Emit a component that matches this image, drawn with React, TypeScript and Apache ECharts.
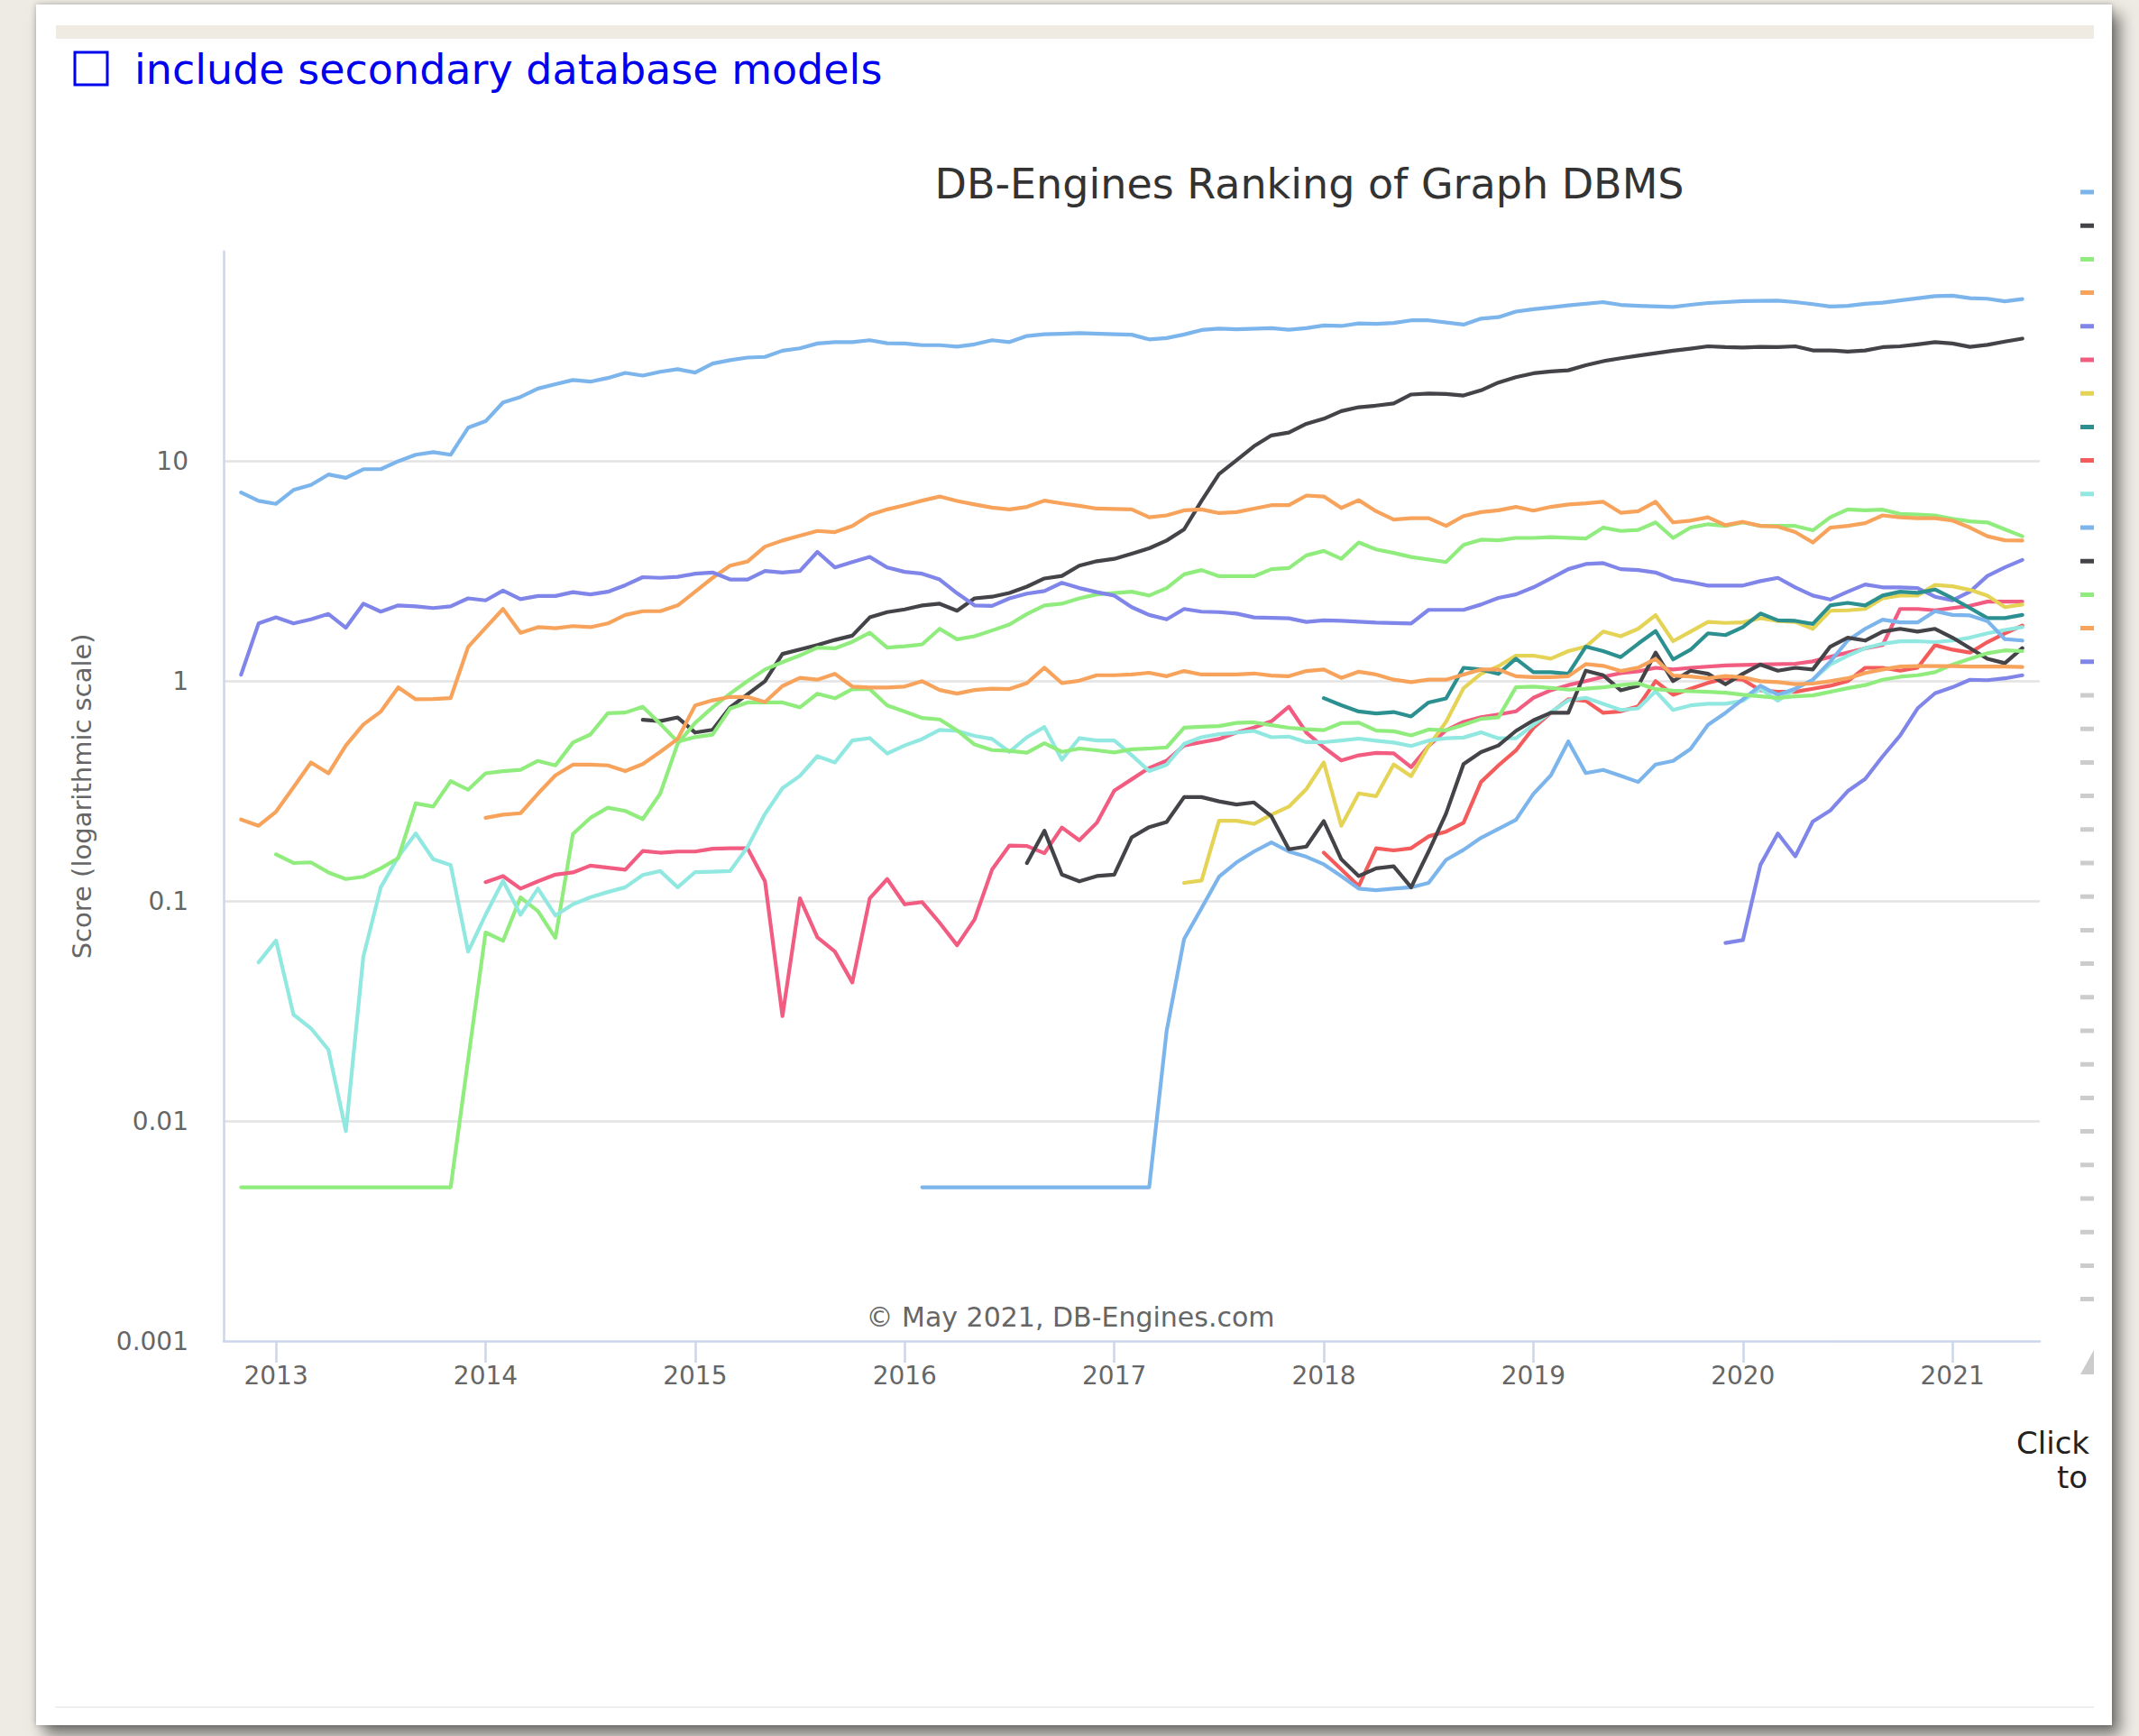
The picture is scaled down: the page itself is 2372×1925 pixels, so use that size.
import { useEffect, useRef } from "react";
import * as echarts from "echarts";

// Each point: [months since 2012-11 (0 = Nov 2012), score]
const neo4j = [[0,7.2],[1,6.6],[2,6.4],[3,7.4],[4,7.8],[5,8.7],[6,8.4],[7,9.2],[8,9.2],[9,10.0],[10,10.7],[11,11.0],[12,10.7],[13,14.2],[14,15.2],[15,18.5],[16,19.6],[17,21.4],[18,22.4],[19,23.4],[20,23.0],[21,23.9],[22,25.2],[23,24.5],[24,25.5],[25,26.2],[26,25.3],[27,27.8],[28,28.8],[29,29.6],[30,29.8],[31,31.8],[32,32.6],[33,34.3],[34,34.8],[35,34.8],[36,35.5],[37,34.4],[38,34.3],[39,33.7],[40,33.7],[41,33.2],[42,34.0],[43,35.5],[44,34.8],[45,37.1],[46,37.8],[47,38.0],[48,38.2],[50,37.8],[51,37.6],[52,35.8],[53,36.3],[54,37.7],[55,39.5],[56,40.1],[57,39.8],[59,40.3],[60,39.6],[61,40.3],[62,41.4],[63,41.2],[64,42.3],[65,42.1],[66,42.5],[67,43.7],[68,43.7],[70,41.8],[71,44.5],[72,45.2],[73,47.9],[74,49.1],[75,50.0],[76,51.1],[78,52.9],[79,51.4],[80,50.9],[82,50.3],[83,51.4],[84,52.4],[85,52.9],[86,53.5],[88,53.7],[89,52.9],[90,51.8],[91,50.5],[92,50.9],[93,52.0],[94,52.6],[95,53.8],[97,56.3],[98,56.6],[99,55.1],[100,54.8],[101,53.3],[102,54.6]];
const cosmosDb = [[23,0.668],[24,0.658],[25,0.684],[26,0.584],[27,0.601],[28,0.76],[30,1.0],[31,1.33],[33,1.46],[34,1.54],[35,1.61],[36,1.95],[37,2.06],[38,2.12],[39,2.21],[40,2.25],[41,2.09],[42,2.38],[43,2.42],[44,2.52],[45,2.69],[46,2.93],[47,3.01],[48,3.35],[49,3.51],[50,3.6],[51,3.8],[52,4.02],[53,4.36],[54,4.9],[55,6.6],[56,8.74],[57,10.1],[58,11.7],[59,13.1],[60,13.5],[61,14.8],[62,15.6],[63,16.9],[64,17.6],[65,17.9],[66,18.3],[67,20.1],[68,20.3],[69,20.2],[70,19.9],[71,21.0],[72,22.8],[73,24.1],[74,25.1],[75,25.6],[76,25.9],[77,27.3],[78,28.5],[79,29.4],[80,30.2],[81,31.0],[82,31.8],[83,32.5],[84,33.3],[85,33.0],[86,32.9],[87,33.1],[88,33.0],[89,33.3],[90,31.9],[91,31.9],[92,31.5],[93,31.9],[94,33.0],[95,33.3],[96,34.0],[97,34.8],[98,34.3],[99,33.1],[100,33.8],[101,35.0],[102,36.1]];
const arangoDb = [[0,0.005],[12,0.005],[13,0.019],[14,0.072],[15,0.066],[16,0.104],[17,0.09],[18,0.068],[19,0.202],[20,0.239],[21,0.266],[22,0.257],[23,0.236],[24,0.308],[25,0.52],[26,0.646],[27,0.76],[28,0.878],[29,1.0],[30,1.13],[31,1.22],[32,1.31],[33,1.42],[34,1.41],[35,1.51],[36,1.66],[37,1.42],[38,1.44],[39,1.47],[40,1.73],[41,1.55],[42,1.6],[43,1.7],[44,1.81],[45,2.02],[46,2.21],[47,2.25],[48,2.38],[49,2.48],[51,2.55],[52,2.45],[53,2.65],[54,3.06],[55,3.2],[56,3.0],[57,3.0],[58,3.0],[59,3.23],[60,3.27],[61,3.73],[62,3.91],[63,3.6],[64,4.27],[65,3.97],[66,3.83],[67,3.67],[69,3.48],[70,4.16],[71,4.4],[72,4.37],[73,4.48],[74,4.48],[75,4.52],[77,4.45],[78,4.99],[79,4.82],[80,4.87],[81,5.27],[82,4.48],[83,4.99],[84,5.17],[85,5.08],[86,5.27],[87,5.08],[88,5.08],[89,5.08],[90,4.85],[91,5.56],[92,6.04],[93,5.98],[94,6.02],[95,5.76],[96,5.72],[97,5.67],[98,5.47],[99,5.33],[100,5.27],[101,4.9],[102,4.56]];
const virtuoso = [[0,0.235],[1,0.22],[2,0.255],[3,0.329],[4,0.427],[5,0.381],[6,0.51],[7,0.635],[8,0.727],[9,0.937],[10,0.827],[11,0.83],[12,0.838],[13,1.43],[14,1.75],[15,2.13],[16,1.66],[17,1.76],[18,1.74],[19,1.78],[20,1.76],[21,1.83],[22,2.0],[23,2.08],[24,2.08],[25,2.21],[26,2.55],[27,2.95],[28,3.35],[29,3.5],[30,4.09],[31,4.36],[32,4.59],[33,4.82],[34,4.76],[35,5.08],[36,5.7],[37,6.04],[38,6.31],[39,6.62],[40,6.91],[41,6.6],[42,6.36],[43,6.15],[44,6.04],[45,6.2],[46,6.62],[47,6.43],[48,6.27],[49,6.09],[51,6.04],[52,5.56],[53,5.67],[54,5.98],[55,6.04],[56,5.81],[57,5.87],[58,6.09],[59,6.31],[60,6.31],[61,6.98],[62,6.91],[63,6.13],[64,6.65],[65,5.92],[66,5.43],[67,5.51],[68,5.51],[69,5.08],[70,5.63],[71,5.87],[72,5.98],[73,6.2],[74,5.96],[75,6.2],[76,6.36],[77,6.43],[78,6.54],[79,5.83],[80,5.92],[81,6.54],[82,5.27],[83,5.37],[84,5.56],[85,5.12],[86,5.3],[87,5.08],[88,5.04],[89,4.76],[90,4.27],[91,4.99],[92,5.08],[93,5.23],[94,5.67],[95,5.56],[96,5.51],[97,5.51],[98,5.37],[99,4.99],[100,4.56],[101,4.37],[102,4.36]];
const orientDb = [[0,1.07],[1,1.83],[2,1.95],[3,1.83],[4,1.91],[5,2.02],[6,1.75],[7,2.25],[8,2.07],[9,2.21],[10,2.19],[11,2.15],[12,2.19],[13,2.38],[14,2.33],[15,2.58],[16,2.36],[17,2.44],[18,2.44],[19,2.54],[20,2.48],[21,2.55],[22,2.73],[23,2.97],[24,2.95],[25,2.98],[26,3.08],[27,3.12],[28,2.9],[29,2.9],[30,3.17],[31,3.12],[32,3.17],[33,3.87],[34,3.29],[35,3.48],[36,3.67],[37,3.29],[38,3.14],[39,3.08],[40,2.9],[41,2.51],[42,2.21],[43,2.2],[44,2.38],[45,2.5],[46,2.57],[47,2.8],[48,2.65],[49,2.54],[50,2.45],[51,2.17],[52,2.0],[53,1.91],[54,2.13],[55,2.07],[56,2.06],[57,2.03],[58,1.95],[60,1.93],[61,1.86],[62,1.89],[63,1.88],[65,1.845],[67,1.83],[68,2.11],[70,2.11],[71,2.23],[72,2.39],[73,2.48],[74,2.67],[75,2.93],[76,3.23],[77,3.41],[78,3.44],[79,3.23],[80,3.2],[81,3.12],[82,2.9],[83,2.82],[84,2.72],[86,2.72],[87,2.85],[88,2.95],[89,2.67],[90,2.45],[91,2.35],[92,2.55],[93,2.75],[94,2.67],[95,2.67],[96,2.65],[97,2.42],[98,2.33],[99,2.55],[100,3.01],[101,3.29],[102,3.56]];
const graphDb = [[14,0.122],[15,0.13],[16,0.114],[17,0.123],[18,0.132],[19,0.135],[20,0.145],[21,0.142],[22,0.139],[23,0.169],[24,0.166],[25,0.168],[26,0.168],[27,0.173],[28,0.174],[29,0.174],[30,0.123],[31,0.03],[32,0.103],[33,0.0685],[34,0.059],[35,0.0427],[36,0.103],[37,0.126],[38,0.0967],[39,0.099],[40,0.0797],[41,0.063],[42,0.0825],[43,0.139],[44,0.179],[45,0.178],[46,0.165],[47,0.216],[48,0.189],[49,0.227],[50,0.318],[51,0.358],[52,0.403],[53,0.435],[54,0.51],[55,0.528],[56,0.546],[57,0.584],[58,0.615],[59,0.657],[60,0.765],[61,0.584],[62,0.5],[63,0.436],[64,0.46],[65,0.472],[66,0.47],[67,0.407],[68,0.507],[69,0.598],[70,0.653],[71,0.685],[72,0.706],[73,0.729],[74,0.84],[75,0.909],[76,0.96],[77,1.0],[78,1.047],[79,1.087],[80,1.108],[81,1.15],[82,1.13],[83,1.15],[85,1.18],[87,1.19],[89,1.2],[90,1.23],[91,1.29],[92,1.35],[93,1.41],[94,1.46],[95,2.13],[96,2.13],[97,2.1],[98,2.15],[99,2.2],[100,2.3],[101,2.3],[102,2.3]];
const janusGraph = [[54,0.121],[55,0.124],[56,0.232],[57,0.232],[58,0.2245],[59,0.247],[60,0.269],[61,0.323],[62,0.427],[63,0.22],[64,0.309],[65,0.3],[66,0.418],[67,0.37],[68,0.507],[69,0.653],[70,0.929],[71,1.08],[72,1.17],[73,1.306],[74,1.306],[75,1.265],[76,1.37],[77,1.435],[78,1.68],[79,1.6],[80,1.73],[81,1.997],[82,1.52],[83,1.68],[84,1.86],[85,1.84],[86,1.85],[87,1.935],[88,1.877],[89,1.86],[90,1.73],[91,2.09],[92,2.1],[93,2.13],[94,2.38],[95,2.45],[96,2.45],[97,2.74],[98,2.7],[99,2.6],[100,2.45],[101,2.17],[102,2.23]];
const neptune = [[62,0.837],[63,0.777],[64,0.728],[65,0.713],[66,0.724],[67,0.691],[68,0.8],[69,0.835],[70,1.15],[71,1.13],[72,1.08],[73,1.265],[74,1.098],[75,1.098],[76,1.08],[77,1.435],[78,1.37],[79,1.286],[80,1.48],[81,1.69],[82,1.255],[83,1.39],[84,1.65],[85,1.62],[86,1.76],[87,2.03],[88,1.89],[89,1.88],[90,1.82],[91,2.21],[92,2.27],[93,2.21],[94,2.45],[95,2.55],[96,2.52],[97,2.61],[98,2.38],[99,2.15],[100,1.935],[101,1.935],[102,2.0]];
const tigerGraph = [[62,0.166],[64,0.117],[65,0.174],[66,0.17],[67,0.174],[68,0.197],[69,0.207],[70,0.227],[71,0.348],[72,0.414],[73,0.484],[74,0.613],[75,0.718],[76,0.827],[77,0.814],[78,0.718],[79,0.729],[80,0.769],[81,1.0],[82,0.867],[83,0.924],[84,0.983],[85,1.03],[86,1.015],[87,0.909],[88,0.895],[89,0.895],[90,0.924],[91,0.953],[92,1.0],[93,1.15],[94,1.15],[95,1.116],[96,1.15],[97,1.458],[98,1.39],[99,1.348],[100,1.505],[101,1.65],[102,1.79]];
const stardog = [[1,0.0527],[2,0.0662],[3,0.0305],[4,0.0264],[5,0.0211],[6,0.009],[7,0.0559],[8,0.1156],[9,0.159],[10,0.203],[11,0.155],[12,0.146],[13,0.0589],[14,0.0867],[15,0.1236],[16,0.0867],[17,0.114],[18,0.086],[19,0.0967],[20,0.104],[21,0.11],[22,0.1156],[23,0.1314],[24,0.137],[25,0.1156],[26,0.1355],[27,0.136],[28,0.137],[29,0.176],[30,0.249],[31,0.326],[32,0.371],[33,0.456],[34,0.427],[35,0.537],[36,0.551],[37,0.469],[38,0.51],[39,0.546],[40,0.6],[41,0.594],[42,0.564],[43,0.546],[44,0.477],[45,0.556],[46,0.619],[47,0.439],[48,0.551],[49,0.537],[50,0.537],[51,0.461],[52,0.39],[53,0.417],[54,0.519],[55,0.556],[56,0.574],[57,0.584],[58,0.594],[59,0.556],[60,0.56],[61,0.528],[62,0.528],[63,0.537],[64,0.548],[65,0.536],[66,0.526],[67,0.507],[68,0.537],[69,0.55],[70,0.554],[71,0.585],[72,0.55],[73,0.55],[74,0.633],[75,0.722],[76,0.819],[77,0.84],[78,0.789],[79,0.74],[80,0.752],[81,0.9],[82,0.74],[83,0.776],[84,0.789],[85,0.789],[86,0.814],[87,0.924],[88,0.814],[89,0.924],[90,1.015],[91,1.19],[92,1.306],[93,1.413],[94,1.48],[95,1.518],[96,1.52],[97,1.505],[98,1.53],[99,1.577],[100,1.65],[101,1.71],[102,1.76]];
const dgraph = [[39,0.005],[52,0.005],[53,0.0257],[54,0.0673],[55,0.0929],[56,0.129],[57,0.15],[58,0.168],[59,0.185],[60,0.168],[61,0.159],[62,0.147],[63,0.13],[64,0.114],[65,0.112],[66,0.114],[67,0.1155],[68,0.121],[69,0.154],[70,0.171],[71,0.194],[72,0.213],[73,0.234],[74,0.307],[75,0.373],[76,0.532],[77,0.382],[78,0.395],[79,0.371],[80,0.348],[81,0.418],[82,0.434],[83,0.492],[84,0.633],[85,0.718],[86,0.827],[87,0.953],[88,0.867],[89,0.924],[90,1.015],[91,1.227],[92,1.53],[93,1.73],[94,1.905],[95,1.85],[96,1.85],[97,2.08],[98,2.0],[99,1.99],[100,1.877],[101,1.553],[102,1.53]];
const fauna = [[45,0.149],[46,0.209],[47,0.132],[48,0.123],[49,0.13],[50,0.132],[51,0.195],[52,0.217],[53,0.229],[54,0.297],[55,0.297],[56,0.284],[57,0.275],[58,0.281],[59,0.243],[60,0.172],[61,0.177],[62,0.231],[63,0.155],[64,0.13],[65,0.141],[66,0.144],[67,0.1155],[68,0.168],[69,0.25],[70,0.42],[71,0.476],[72,0.51],[73,0.594],[74,0.664],[75,0.718],[76,0.718],[77,1.116],[78,1.064],[79,0.909],[80,0.953],[81,1.348],[82,1.0],[83,1.116],[84,1.08],[85,0.968],[86,1.08],[87,1.19],[88,1.116],[89,1.15],[90,1.13],[91,1.435],[92,1.577],[93,1.53],[94,1.68],[95,1.73],[96,1.68],[97,1.73],[98,1.577],[99,1.413],[100,1.265],[101,1.207],[102,1.413]];
const giraph = [[2,0.163],[3,0.149],[4,0.15],[5,0.135],[6,0.126],[7,0.129],[8,0.141],[9,0.157],[10,0.278],[11,0.269],[12,0.351],[13,0.321],[14,0.381],[15,0.39],[16,0.395],[17,0.434],[18,0.414],[19,0.526],[20,0.572],[21,0.715],[22,0.72],[23,0.765],[24,0.64],[25,0.53],[26,0.557],[27,0.571],[28,0.75],[29,0.8],[30,0.8],[31,0.8],[32,0.76],[33,0.877],[34,0.836],[35,0.921],[36,0.92],[37,0.776],[38,0.727],[39,0.68],[40,0.67],[41,0.597],[42,0.515],[43,0.486],[44,0.482],[45,0.473],[46,0.522],[47,0.477],[48,0.494],[49,0.485],[50,0.474],[51,0.49],[52,0.494],[53,0.5],[54,0.615],[55,0.62],[56,0.625],[57,0.646],[58,0.65],[59,0.631],[60,0.614],[61,0.605],[62,0.599],[63,0.645],[64,0.647],[65,0.596],[66,0.592],[67,0.567],[68,0.603],[69,0.598],[70,0.633],[71,0.674],[72,0.685],[73,0.938],[74,0.944],[75,0.932],[76,0.915],[77,0.924],[78,0.938],[79,0.96],[80,0.977],[81,0.92],[82,0.905],[83,0.9],[84,0.895],[85,0.886],[86,0.867],[87,0.853],[88,0.84],[89,0.853],[90,0.861],[91,0.895],[92,0.929],[93,0.96],[94,1.015],[95,1.047],[96,1.064],[97,1.098],[98,1.19],[99,1.265],[100,1.34],[101,1.38],[102,1.37]];
const allegroGraph = [[14,0.239],[15,0.247],[16,0.251],[17,0.308],[18,0.373],[19,0.417],[20,0.417],[21,0.414],[22,0.39],[23,0.42],[24,0.477],[25,0.546],[26,0.776],[27,0.818],[28,0.848],[29,0.848],[30,0.803],[31,0.95],[32,1.035],[33,1.016],[34,1.08],[35,0.945],[36,0.935],[37,0.935],[38,0.945],[39,1.0],[40,0.912],[41,0.878],[42,0.912],[43,0.925],[44,0.921],[45,0.98],[46,1.152],[47,0.98],[48,1.005],[49,1.064],[50,1.064],[51,1.072],[52,1.092],[53,1.053],[54,1.112],[55,1.072],[56,1.072],[57,1.072],[58,1.084],[59,1.06],[60,1.053],[61,1.112],[62,1.13],[63,1.035],[64,1.104],[65,1.072],[66,1.016],[67,0.99],[68,1.016],[69,1.016],[70,1.072],[71,1.13],[72,1.13],[73,1.053],[74,1.042],[75,1.042],[76,1.053],[77,1.195],[78,1.174],[79,1.112],[80,1.152],[81,1.262],[82,1.06],[83,1.05],[84,1.03],[85,1.055],[86,1.04],[87,1.0],[88,0.99],[89,0.97],[90,0.975],[91,1.0],[92,1.03],[93,1.09],[94,1.13],[95,1.165],[96,1.17],[97,1.17],[98,1.17],[99,1.165],[100,1.165],[101,1.165],[102,1.16]];
const nebulaGraph = [[85,0.0645],[86,0.0665],[87,0.146],[88,0.203],[89,0.16],[90,0.23],[91,0.258],[92,0.316],[93,0.359],[94,0.455],[95,0.566],[96,0.752],[97,0.881],[98,0.938],[99,1.015],[100,1.01],[101,1.03],[102,1.064]];

const systemNames = ["Neo4j", "Microsoft Azure Cosmos DB", "ArangoDB", "Virtuoso", "OrientDB", "GraphDB", "JanusGraph", "Amazon Neptune", "TigerGraph", "Stardog", "Dgraph", "Fauna", "Giraph", "AllegroGraph", "Nebula Graph"];
const systemScores = [neo4j, cosmosDb, arangoDb, virtuoso, orientDb, graphDb, janusGraph, neptune, tigerGraph, stardog, dgraph, fauna, giraph, allegroGraph, nebulaGraph];
const systemColors = ["#7cb5ec", "#434348", "#90ed7d", "#f7a35c", "#8085e9", "#f15c80", "#e4d354", "#2b908f", "#f45b5b", "#91e8e1", "#7cb5ec", "#434348", "#90ed7d", "#f7a35c", "#8085e9"];
const hiddenSystems = ["Memgraph", "Blazegraph", "Sparksee", "InfiniteGraph", "HugeGraph", "AnzoGraph DB", "TypeDB", "FlockDB", "HyperGraphDB", "Graph Engine", "Cayley", "InfoGrid", "TerminusDB", "VelocityGraph", "GraphBase", "S2Graph", "Galaxybase", "ArcadeDB", "Weaver"];
const yearTicks = [2013, 2014, 2015, 2016, 2017, 2018, 2019, 2020, 2021];
const scoreTickLabels = ["0.001", "0.01", "0.1", "1", "10"];

const FONT = '"DejaVu Sans", Verdana, sans-serif';
const monthToYear = (m: number) => 2012 + (10 + m) / 12;

export default function App() {
  const ref = useRef<HTMLDivElement>(null);
  useEffect(() => {
    if (!ref.current) return;
    const chart = echarts.init(ref.current, undefined, { renderer: "svg" });
    const selected: Record<string, boolean> = {};
    hiddenSystems.forEach((n) => (selected[n] = false));
    const series: any[] = systemNames.map((name, k) => ({
      type: "line",
      name,
      data: systemScores[k].map(([m, v]) => [monthToYear(m), v]),
      symbol: "none",
      showSymbol: false,
      lineStyle: { width: 4.2, color: systemColors[k], cap: "round", join: "round" },
      itemStyle: { color: systemColors[k] },
      emphasis: { disabled: true },
      silent: true,
    }));
    hiddenSystems.forEach((name) =>
      series.push({ type: "line", name, data: [], symbol: "none", itemStyle: { color: "#cccccc" }, lineStyle: { color: "#cccccc" } })
    );
    chart.setOption({
      animation: false,
      textStyle: { fontFamily: FONT },
      grid: { left: 208, top: 235.7, width: 2014, height: 1208.3, containLabel: false, outerBoundsMode: "none" },
      xAxis: {
        type: "value",
        min: 2012.75,
        max: 2021 + 5 / 12,
        splitLine: { show: false },
        axisLine: { show: true, lineStyle: { color: "#ccd6eb", width: 2.5 } },
        axisTick: { show: true, customValues: yearTicks, length: 24, lineStyle: { color: "#ccd6eb", width: 2.5 } },
        axisLabel: {
          customValues: yearTicks,
          formatter: (v: number) => String(Math.round(v)),
          margin: 24,
          fontSize: 28,
          color: "#666666",
          fontFamily: FONT,
        },
      },
      yAxis: {
        type: "log",
        logBase: 10,
        min: 0.001,
        max: 90,
        name: "Score (logarithmic scale)",
        nameLocation: "middle",
        nameGap: 143,
        nameTextStyle: { fontSize: 29, color: "#666666", fontFamily: FONT },
        axisLine: { show: true, lineStyle: { color: "#ccd6eb", width: 2.5 } },
        axisTick: { show: false },
        splitLine: { show: true, showMinLine: false, showMaxLine: false, lineStyle: { color: "#e3e3e3", width: 2.5 } },
        axisLabel: {
          margin: 39,
          fontSize: 28,
          color: "#666666",
          fontFamily: FONT,
          formatter: (v: number) => {
            const e = Math.log10(v);
            const r = Math.round(e);
            if (Math.abs(e - r) > 1e-6 || r < -3 || r > 1) return "";
            return scoreTickLabels[r + 3];
          },
        },
      },
      legend: {
        orient: "vertical",
        left: 2267,
        top: 167.5,
        padding: 0,
        itemWidth: 41,
        itemHeight: 5,
        itemGap: 32.2,
        icon: "rect",
        formatter: () => "",
        textStyle: { fontSize: 12, lineHeight: 12 },
        inactiveColor: "#cccccc",
        data: [...systemNames, ...hiddenSystems],
        selected,
      },
      graphic: [
        { type: "rect", shape: { x: 43, y: 15, width: 36, height: 36 }, style: { fill: "none", stroke: "#0000ee", lineWidth: 3 } },
        { type: "text", x: 109, y: 34, style: { text: "include secondary database models", fontSize: 46, fontFamily: FONT, fill: "#0000ee", align: "left", verticalAlign: "middle" } },
        { type: "text", x: 1412, y: 161, style: { text: "DB-Engines Ranking of Graph DBMS", fontSize: 46, fontFamily: FONT, fill: "#333333", align: "center", verticalAlign: "middle" } },
        { type: "text", x: 1147, y: 1417, style: { text: "© May 2021, DB-Engines.com", fontSize: 30, fontFamily: FONT, fill: "#666666", align: "center", verticalAlign: "middle" } },
        { type: "text", x: 2196, y: 1557, style: { text: "Click", fontSize: 34, fontFamily: FONT, fill: "#222222", align: "left", verticalAlign: "middle" } },
        { type: "text", x: 2241, y: 1595, style: { text: "to", fontSize: 34, fontFamily: FONT, fill: "#222222", align: "left", verticalAlign: "middle" } },
        { type: "polygon", shape: { points: [[2267, 1481], [2282, 1454], [2297, 1481]] }, style: { fill: "#cccccc" } },
      ],
      series,
    });
    return () => chart.dispose();
  }, []);

  return (
    <div style={{ position: "absolute", left: 0, top: 0, width: 2372, height: 1925, overflow: "hidden", background: "#eeebe4" }}>
      <div style={{ position: "absolute", left: 40, top: 5, width: 2302, height: 1908, background: "#ffffff", boxShadow: "0 0 6px rgba(0,0,0,0.25), 9px 11px 16px rgba(0,0,0,0.5)" }} />
      <div style={{ position: "absolute", left: 62, top: 28, width: 2260, height: 15, background: "#efebe3" }} />
      <div style={{ position: "absolute", left: 61, top: 1892, width: 2261, height: 2, background: "#efefef" }} />
      <div ref={ref} style={{ position: "absolute", left: 40, top: 43, width: 2282, height: 1850 }} />
    </div>
  );
}
